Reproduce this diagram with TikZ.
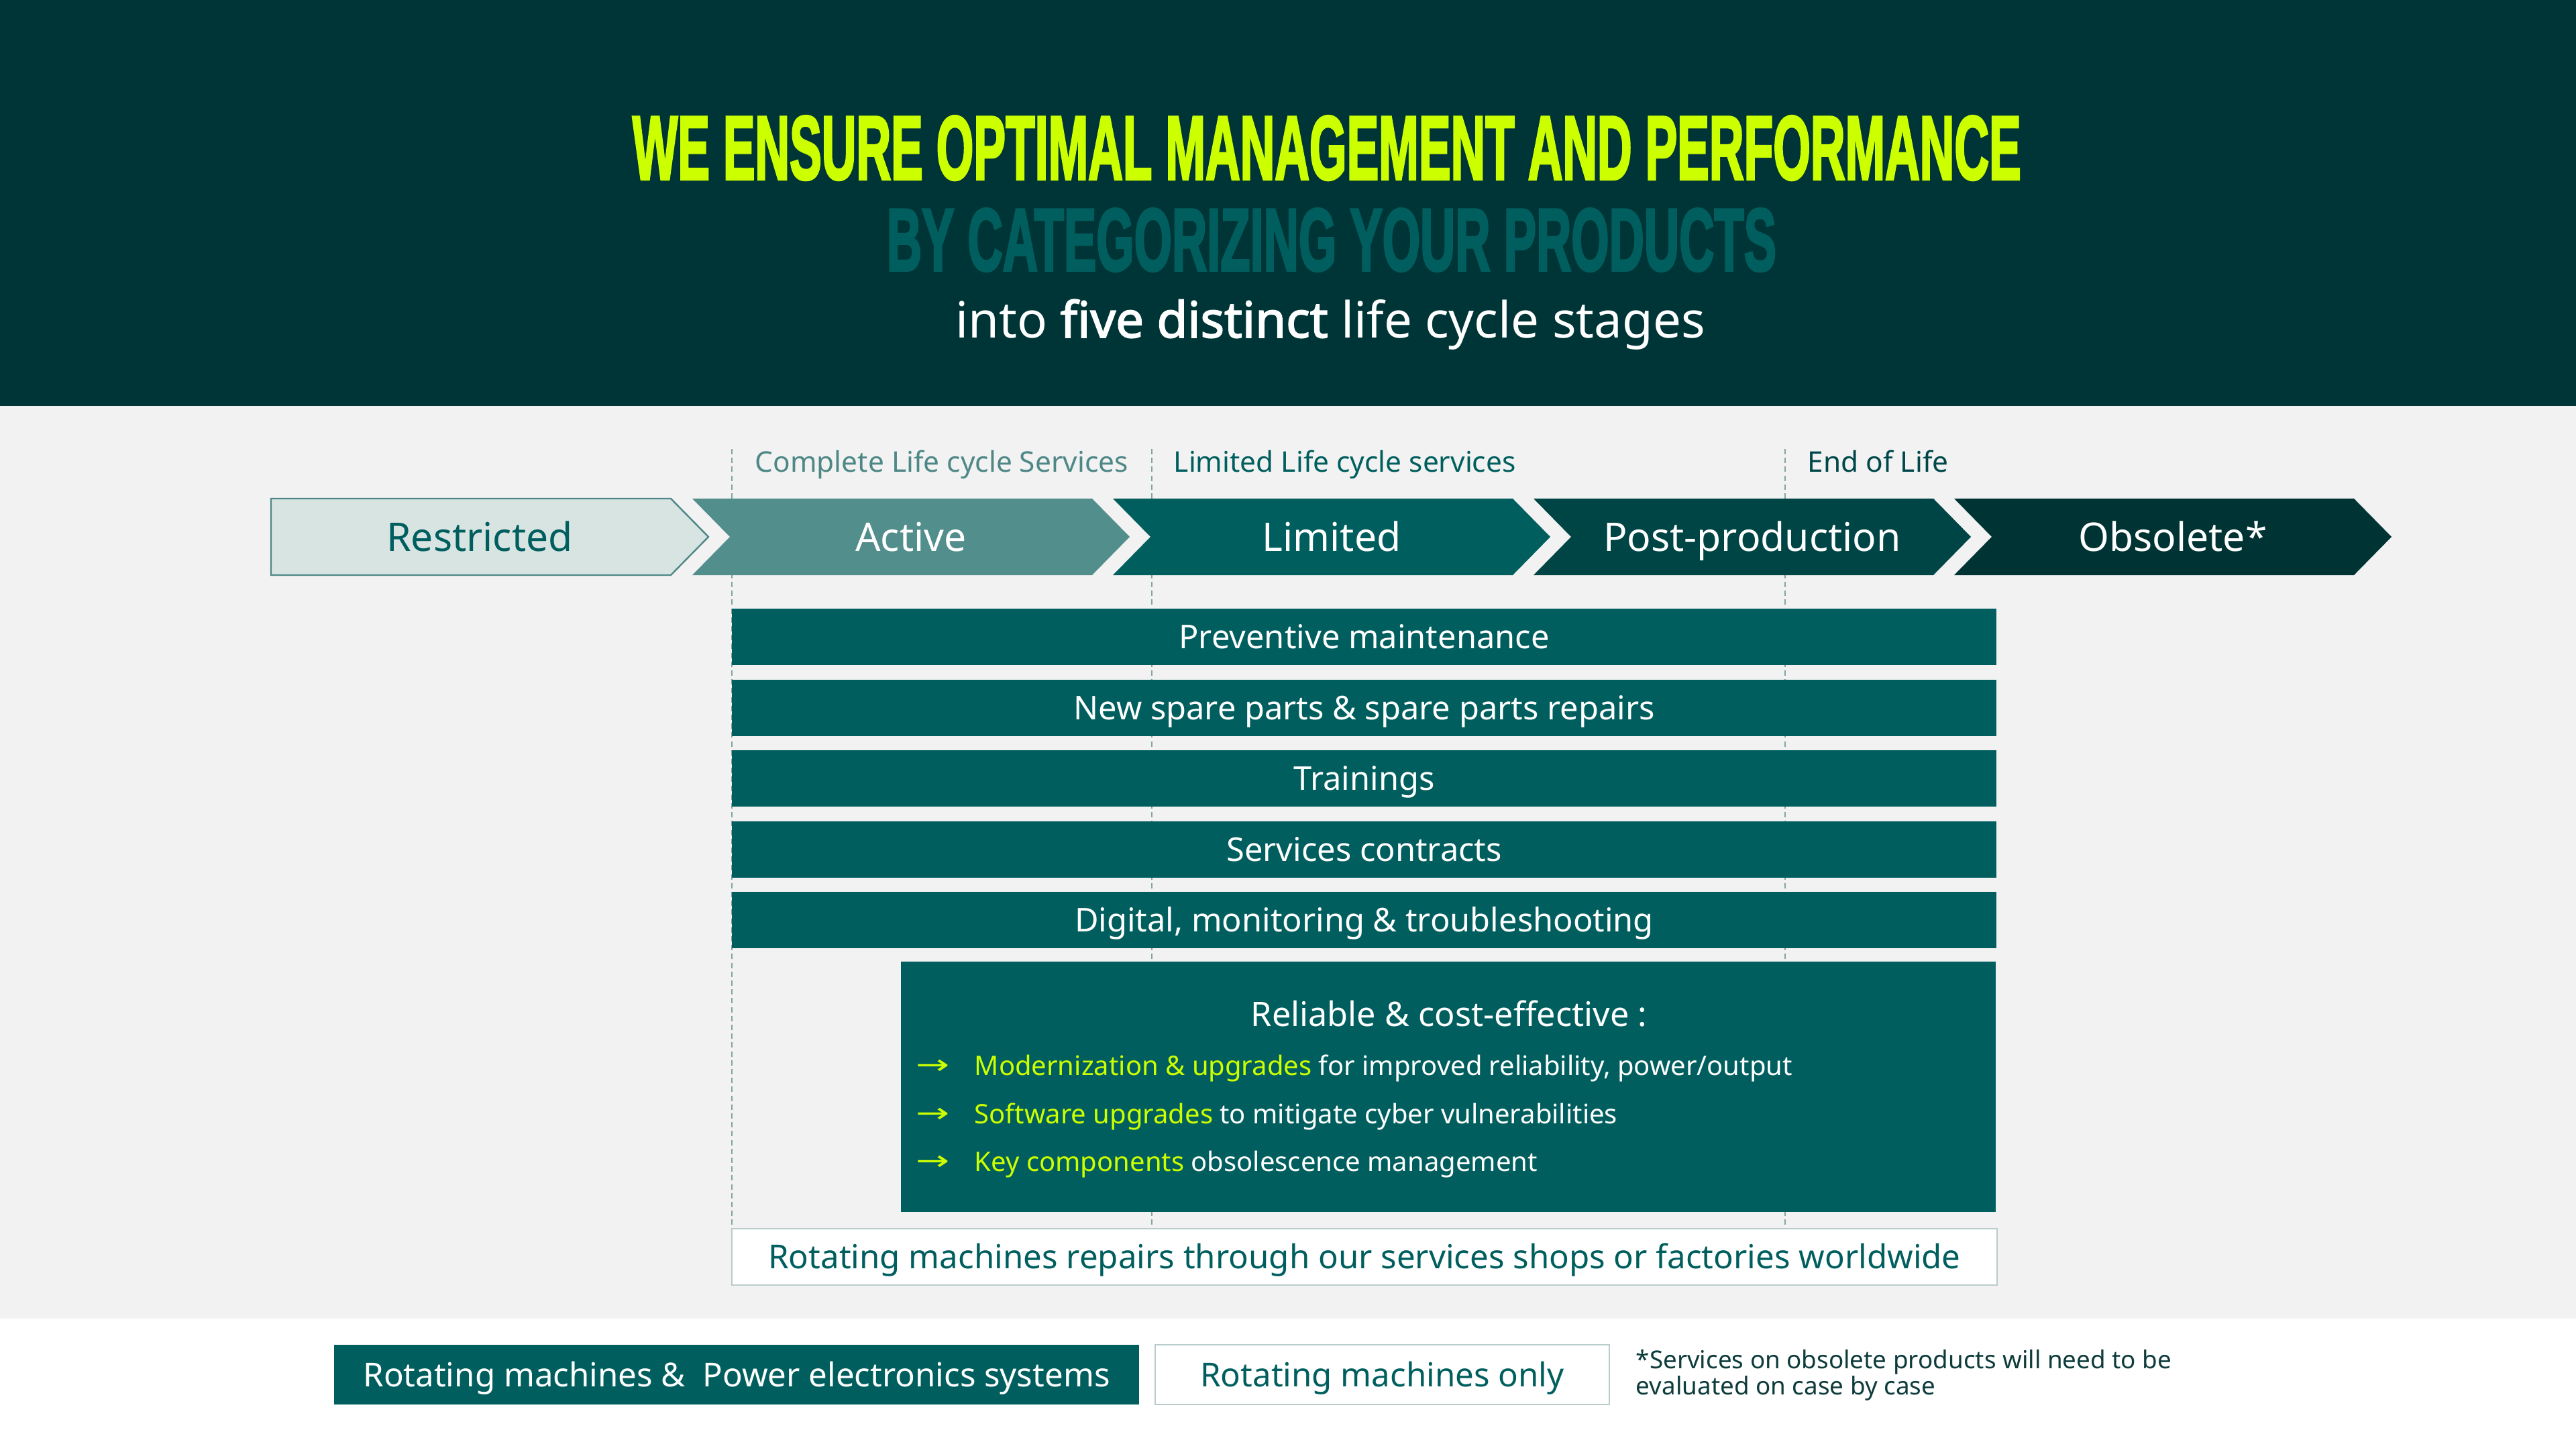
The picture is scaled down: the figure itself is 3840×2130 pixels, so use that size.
\documentclass[tikz,border=0pt]{standalone}
\usepackage{fontspec}
\usepackage{graphicx}
\setmainfont{Noto Sans}[BoldFont={Noto Sans}, BoldFeatures={FakeBold=2.2}]
\newfontfamily\titlefont[FakeBold=3]{Liberation Sans}
\newfontfamily\symfont{DejaVu Sans}
\definecolor{darkbg}{HTML}{003537}
\definecolor{lightbg}{HTML}{F2F2F2}
\definecolor{teal5}{HTML}{005F5E}
\definecolor{restrfill}{HTML}{D8E4E2}
\definecolor{restrdraw}{HTML}{4E8886}
\definecolor{activec}{HTML}{528E8C}
\definecolor{postc}{HTML}{004545}
\definecolor{obsc}{HTML}{003434}
\definecolor{lime}{HTML}{CCFF00}
\definecolor{dashc}{HTML}{7FA5A3}
\definecolor{boxline}{HTML}{B8CDCB}
\definecolor{eolc}{HTML}{00474A}
\definecolor{notec}{HTML}{0E3B3B}
\tikzset{
  barnode/.style={fill=teal5, text=white, minimum width=471.25pt, minimum height=21pt, inner sep=0pt, text height=8.7pt, text depth=0pt, font=\fontsize{12.2}{14}\selectfont},
  chevlabel/.style={font=\fontsize{14.7}{17}\selectfont, text=white, inner sep=0pt, text height=10.5pt, text depth=0pt},
  hdr/.style={font=\fontsize{10.6}{12}\selectfont, anchor=base west, inner sep=0pt},
  bulletnode/.style={font=\fontsize{10}{12}\selectfont, text=white, anchor=base west, inner sep=0pt},
  divider/.style={draw=dashc, line width=0.5pt, dash pattern=on 2pt off 1.3pt},
  legendnode/.style={minimum height=22.25pt, inner sep=0pt, text height=8.8pt, text depth=0pt, font=\fontsize{12.3}{14}\selectfont},
}
\begin{document}
\begin{tikzpicture}[x=0.25pt,y=-0.25pt]
\useasboundingbox (0,0) rectangle (3840,2130);
% backgrounds
\fill[darkbg] (0,0) rectangle (3840,605);
\fill[lightbg] (0,605) rectangle (3840,1965);
\fill[white] (0,1965) rectangle (3840,2130);
% titles
\node[anchor=base west, inner sep=0pt, text=lime] (t1) at (942,267)
  {\resizebox{517.5pt}{23.5pt}{\titlefont\bfseries WE ENSURE OPTIMAL MANAGEMENT AND PERFORMANCE}};
\node[anchor=base west, inner sep=0pt, text=teal5] (t2) at (1321,403)
  {\resizebox{331.5pt}{23pt}{\titlefont\bfseries BY CATEGORIZING YOUR PRODUCTS}};
\node[anchor=base, inner sep=0pt, text=white, font=\fontsize{18.6}{22}\selectfont] (t3) at (1983,503)
  {into \textbf{five distinct} life cycle stages};
% dashed dividers
\coordinate (d1a) at (1091,669); \coordinate (d1b) at (1091,1831);
\coordinate (d2a) at (1717,669); \coordinate (d2b) at (1717,1831);
\coordinate (d3a) at (2661,669); \coordinate (d3b) at (2661,1831);
\draw[divider] (d1a) -- (d1b);
\draw[divider] (d2a) -- (d2b);
\draw[divider] (d3a) -- (d3b);
% header labels
\node[hdr, text=restrdraw] (h1) at (1125,703) {Complete Life cycle Services};
\node[hdr, text=teal5] (h2) at (1749,703) {Limited Life cycle services};
\node[hdr, text=eolc] (h3) at (2694,703) {End of Life};
% chevrons
\filldraw[fill=restrfill, draw=restrdraw, line width=0.6pt] (404,743) -- (1000,743) -- (1056,800) -- (1000,857) -- (404,857) -- cycle;
\fill[activec] (1032,743) -- ++(596,0) -- ++(56,57) -- ++(-56,57) -- ++(-596,0) -- ++(56,-57) -- cycle;
\fill[teal5] (1659,743) -- ++(596,0) -- ++(56,57) -- ++(-56,57) -- ++(-596,0) -- ++(56,-57) -- cycle;
\fill[postc] (2286,743) -- ++(596,0) -- ++(56,57) -- ++(-56,57) -- ++(-596,0) -- ++(56,-57) -- cycle;
\fill[obsc] (2913,743) -- ++(596,0) -- ++(56,57) -- ++(-56,57) -- ++(-596,0) -- ++(56,-57) -- cycle;
\node[chevlabel, text=teal5] (c1) at (715,800) {Restricted};
\node[chevlabel] (c2) at (1358,800) {Active};
\node[chevlabel] (c3) at (1985,800) {Limited};
\node[chevlabel] (c4) at (2612,800) {Post-production};
\node[chevlabel] (c5) at (3239,800) {Obsolete*};
% service bars
\node[barnode] (b1) at (2033.5,949) {Preventive maintenance};
\node[barnode] (b2) at (2033.5,1055) {New spare parts \& spare parts repairs};
\node[barnode] (b3) at (2033.5,1160) {Trainings};
\node[barnode] (b4) at (2033.5,1266) {Services contracts};
\node[barnode] (b5) at (2033.5,1371) {Digital, monitoring \& troubleshooting};
% big box
\node[fill=teal5, minimum width=408pt, minimum height=93.25pt, inner sep=0pt] (big) at (2159,1619.5) {};
\node[anchor=base, inner sep=0pt, text=white, font=\fontsize{12.6}{14}\selectfont] (bigt) at (2160,1529) {Reliable \& cost-effective :};
\node[bulletnode, text=lime] (a1) at (1365,1600) {\scalebox{1.5}[1]{\symfont →}};
\node[bulletnode, text=lime] (a2) at (1365,1672) {\scalebox{1.5}[1]{\symfont →}};
\node[bulletnode, text=lime] (a3) at (1365,1743) {\scalebox{1.5}[1]{\symfont →}};
\node[bulletnode] (l1) at (1452,1602) {\textcolor{lime}{Modernization \& upgrades} for improved reliability, power/output};
\node[bulletnode] (l2) at (1452,1674) {\textcolor{lime}{Software upgrades} to mitigate cyber vulnerabilities};
\node[bulletnode] (l3) at (1452,1745) {\textcolor{lime}{Key components} obsolescence management};
% bottom box
\node[legendnode, fill=white, draw=boxline, line width=0.6pt, minimum width=471.5pt, minimum height=21pt, text=teal5] (rep) at (2034,1873)
  {Rotating machines repairs through our services shops or factories worldwide};
% legend
\node[legendnode, fill=teal5, minimum width=300pt, text=white] (lg1) at (1098,2048.5)
  {Rotating machines \&\ \ Power electronics systems};
\node[legendnode, fill=white, draw=boxline, line width=0.6pt, minimum width=169.25pt, text=teal5] (lg2) at (2060.5,2048.5)
  {Rotating machines only};
\node[anchor=base west, inner sep=0pt, text=notec, font=\fontsize{9.2}{9.75}\selectfont, align=left] (note) at (2438,2078)
  {*Services on obsolete products will need to be\\evaluated on case by case};
\end{tikzpicture}
\end{document}
